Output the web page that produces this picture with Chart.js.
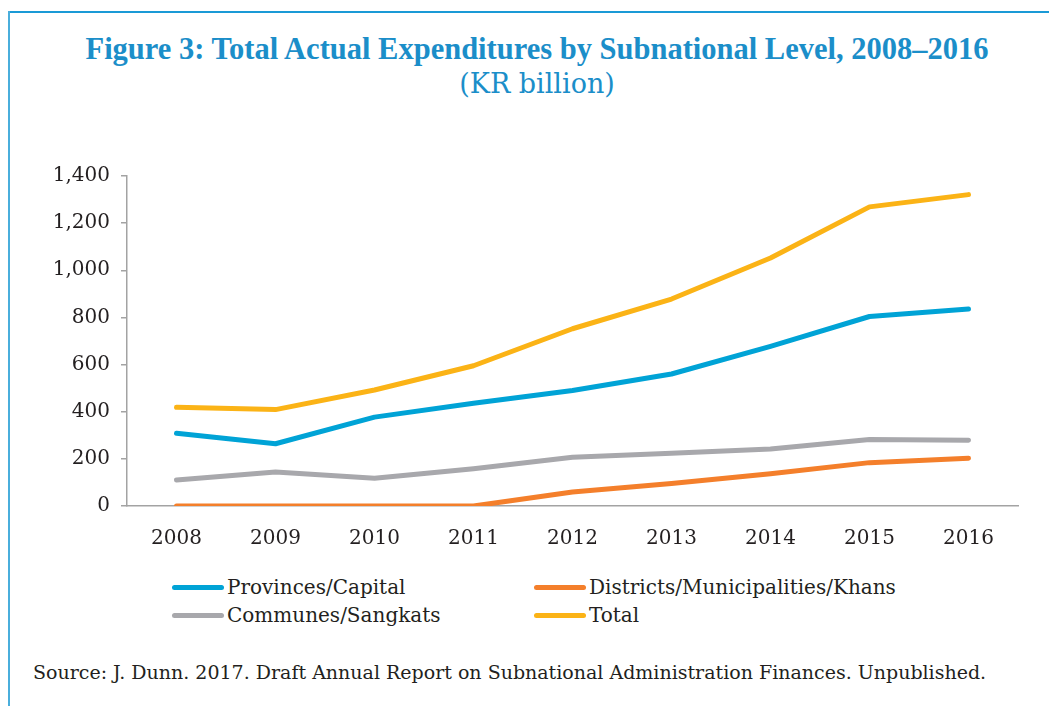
<!DOCTYPE html>
<html>
<head>
<meta charset="utf-8">
<title>Total Actual Expenditures by Subnational Level</title>
<script src="https://cdn.jsdelivr.net/npm/chart.js@4.4.1/dist/chart.umd.min.js"></script>
<style>
  html, body { margin: 0; padding: 0; background: #fff; }
  body { width: 1049px; height: 706px; position: relative; overflow: hidden; }
  .frame-top { position: absolute; left: 8px; top: 11px; right: 0; height: 2px; background: #1a9ad6; }
  .frame-left { position: absolute; left: 8px; top: 11px; width: 2px; bottom: 0; background: #4aaedc; }
  .title {
    position: absolute; left: 0; width: 1074px; top: 32px; text-align: center;
    font-family: "Liberation Serif", serif; font-weight: bold; font-size: 30.5px; color: #1b8ec9;
  }
  .subtitle {
    position: absolute; left: 0; width: 1074px; top: 68px; text-align: center;
    font-family: "DejaVu Serif", serif; font-size: 27px; color: #1b8ec9;
  }
  .chart-box { position: absolute; left: 0; top: 153px; width: 1049px; height: 407px; }
  #legend {
    position: absolute; left: 172px; top: 573px;
    font-family: "DejaVu Serif", serif; font-size: 20px; color: #231f20;
  }
  .legend-item { position: absolute; white-space: nowrap; display: flex; align-items: center; height: 28px; }
  .legend-swatch { width: 52px; height: 5px; border-radius: 3px; margin-right: 3px; }
  .source {
    position: absolute; left: 33px; top: 661px; white-space: nowrap;
    font-family: "DejaVu Serif", serif; font-size: 19px; color: #231f20;
  }
</style>
</head>
<body>
<div class="frame-top"></div>
<div class="frame-left"></div>
<div class="title">Figure 3: Total Actual Expenditures by Subnational Level, 2008–2016</div>
<div class="subtitle">(KR billion)</div>
<div class="chart-box"><canvas id="chart"></canvas></div>
<div id="legend"></div>
<div class="source">Source: J. Dunn. 2017. Draft Annual Report on Subnational Administration Finances. Unpublished.</div>

<script>
// Years on the category axis
const years = ['2008', '2009', '2010', '2011', '2012', '2013', '2014', '2015', '2016'];

// Expenditures in KR billion
const provinces = [309, 264, 377, 436, 490, 560, 677, 804, 836];
const districts = [0, 0, 0, 0, 59, 95, 137, 184, 203];
const communes  = [110, 144, 118, 158, 207, 224, 242, 282, 279];
const totals    = [419, 409, 492, 595, 752, 878, 1052, 1269, 1321];

const seriesNames = ['Provinces/Capital', 'Districts/Municipalities/Khans', 'Communes/Sangkats', 'Total'];
const seriesColors = ['#00a3d6', '#f47f2b', '#a8a8ac', '#fbb316'];

const axisColor = '#a3a3a3';
const tickFont = { family: "'DejaVu Serif', serif", size: 20 };

function makeLine(i, values) {
  return {
    label: seriesNames[i],
    data: values,
    borderColor: seriesColors[i],
    backgroundColor: seriesColors[i],
    borderWidth: 5,
    borderCapStyle: 'round',
    borderJoinStyle: 'round',
    pointRadius: 0,
    pointHoverRadius: 0,
    tension: 0,
    fill: false
  };
}

const ctx = document.getElementById('chart').getContext('2d');
const myChart = new Chart(ctx, {
  type: 'line',
  data: {
    labels: years,
    datasets: [
      makeLine(0, provinces),
      makeLine(1, districts),
      makeLine(2, communes),
      makeLine(3, totals)
    ]
  },
  options: {
    responsive: true,
    maintainAspectRatio: false,
    animation: false,
    layout: { padding: { left: 0, right: 31, top: 0, bottom: 0 } },
    plugins: {
      legend: { display: false },
      tooltip: { enabled: false }
    },
    scales: {
      x: {
        offset: true,
        grid: { display: false, drawTicks: false },
        border: { display: true, color: axisColor, width: 1.5 },
        ticks: { color: '#231f20', font: tickFont, padding: 21, maxRotation: 0 },
        afterFit: (scale) => { scale.height = 54; }
      },
      y: {
        min: 0,
        max: 1400,
        grid: { drawOnChartArea: false, color: axisColor, tickLength: 6, lineWidth: 1.5 },
        border: { display: true, color: axisColor, width: 1.5 },
        ticks: {
          stepSize: 200,
          color: '#231f20',
          font: tickFont,
          padding: 11,
          callback: (v) => v.toLocaleString('en-US')
        },
        afterFit: (scale) => { scale.width = 127; }
      }
    }
  }
});

// Legend in two columns, built from the chart's datasets
const legendEl = document.getElementById('legend');
const legendSlots = [[0, 0], [362, 0], [0, 28], [362, 28]];
const legendOrder = [0, 1, 2, 3];
legendOrder.forEach((dsIndex, slot) => {
  const ds = myChart.data.datasets[dsIndex];
  const item = document.createElement('div');
  item.className = 'legend-item';
  item.style.left = legendSlots[slot][0] + 'px';
  item.style.top = legendSlots[slot][1] + 'px';
  const sw = document.createElement('span');
  sw.className = 'legend-swatch';
  sw.style.background = ds.borderColor;
  const txt = document.createElement('span');
  txt.textContent = ds.label;
  item.appendChild(sw);
  item.appendChild(txt);
  legendEl.appendChild(item);
});
</script>
</body>
</html>
